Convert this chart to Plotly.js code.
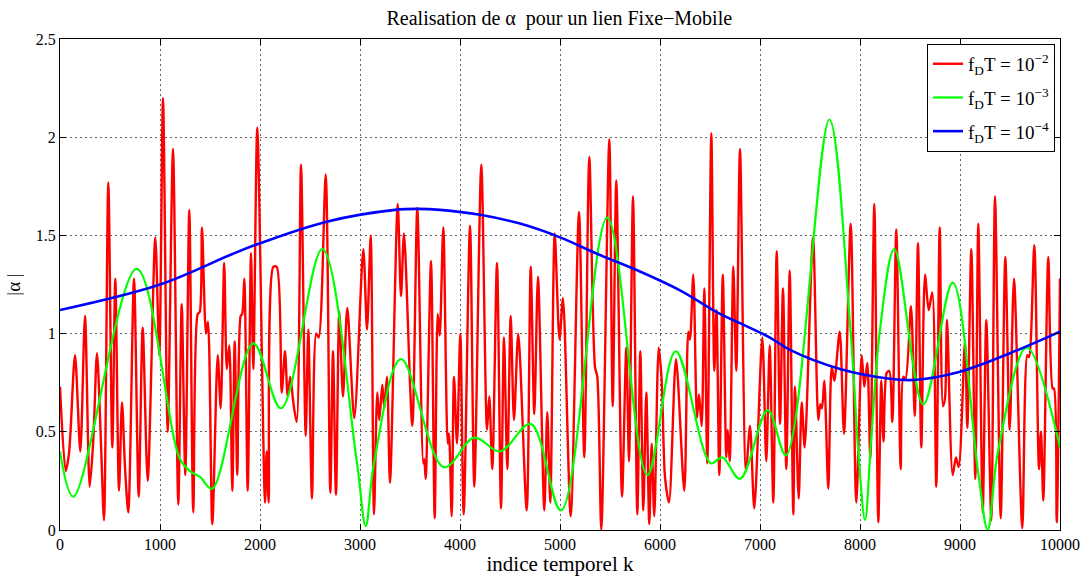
<!DOCTYPE html>
<html>
<head>
<meta charset="utf-8">
<script src="https://cdn.plot.ly/plotly-3.0.1.min.js"></script>
<style>html,body{margin:0;padding:0;background:#fff;}#chart{width:1086px;height:576px;}</style>
</head>
<body>
<div id="chart"></div>
<script>
// fD T = 1e-2 (red)
const redK = [0,57,90,150,203,250,297,333,370,410,440,483,523,553,590,620,650,683,740,787,827,877,953,993,1030,1077,1130,1183,1217,1253,1293,1333,1377,1397,1420,1460,1480,1523,1577,1607,1642,1668,1693,1723,1747,1773,1807,1822,1843,1877,1910,1933,1973,2050,2067,2087,2133,2167,2217,2250,2277,2303,2333,2367,2410,2457,2483,2520,2563,2587,2657,2703,2730,2760,2793,2830,2873,2943,3033,3070,3107,3140,3173,3193,3223,3243,3270,3300,3377,3410,3440,3523,3573,3633,3643,3657,3710,3747,3777,3797,3833,3877,3890,3917,3940,3970,4003,4037,4100,4143,4213,4270,4293,4323,4370,4410,4440,4473,4507,4540,4583,4667,4707,4743,4780,4843,4873,4903,4947,4995,5030,5107,5190,5243,5293,5350,5373,5413,5493,5527,5563,5620,5663,5690,5730,5773,5803,5833,5863,5893,5917,5943,5987,6017,6050,6090,6160,6243,6283,6300,6333,6370,6390,6417,6443,6473,6513,6543,6565,6593,6628,6663,6677,6697,6733,6763,6800,6860,6900,6943,7023,7063,7097,7133,7167,7200,7230,7263,7297,7333,7350,7387,7417,7447,7530,7583,7603,7620,7643,7683,7717,7743,7797,7840,7907,7963,8017,8043,8073,8103,8143,8183,8213,8235,8267,8293,8323,8363,8407,8433,8455,8510,8547,8580,8613,8650,8687,8723,8763,8797,8830,8850,8870,8927,8960,8987,9050,9073,9113,9153,9183,9227,9263,9313,9350,9407,9453,9497,9540,9623,9673,9690,9743,9790,9810,9833,9883,9927,9940,9967,10000];
const redV = [0.73,0.30,0.39,0.89,0.40,1.09,0.22,0.46,0.90,0.44,0.05,1.77,0.42,1.28,0.20,0.65,0.32,0.09,1.28,0.17,1.03,0.25,1.49,0.89,2.20,0.50,1.94,0.13,1.15,0.28,1.63,0.09,1.10,1.11,1.54,1.00,1.06,0.03,0.89,0.62,1.36,0.82,0.94,0.20,0.96,0.28,1.09,1.10,1.28,0.20,1.41,0.82,2.05,0.14,0.40,0.14,1.34,1.34,0.70,0.91,0.68,0.78,0.65,0.55,1.86,0.48,1.02,0.16,1.00,0.98,1.81,0.19,0.91,0.18,1.11,0.68,1.13,0.57,1.43,1.02,1.50,0.08,0.70,0.56,0.74,0.62,0.78,0.24,1.66,1.19,1.51,0.53,1.64,0.34,0.36,0.26,1.37,0.06,1.10,0.99,1.54,0.44,0.49,0.07,0.78,0.44,1.00,0.08,1.55,0.22,1.86,0.51,0.68,0.31,1.36,0.11,0.98,0.31,1.09,0.56,1.00,0.10,1.34,0.59,1.29,0.10,0.60,0.14,1.51,0.97,1.18,0.07,1.62,0.37,1.90,0.83,0.78,0.00,1.99,0.63,1.78,0.17,0.93,0.35,1.70,0.08,0.91,0.10,0.70,0.03,0.44,0.07,0.93,0.76,0.27,0.14,0.87,0.20,1.01,0.97,1.30,0.57,0.69,0.53,1.23,0.34,2.02,0.81,1.12,0.28,1.30,0.37,0.51,0.35,1.34,0.81,1.94,0.30,0.53,0.11,0.98,0.35,0.94,0.14,1.42,0.54,1.23,0.31,1.32,0.08,0.73,0.16,0.65,0.42,1.49,0.56,0.64,0.62,0.76,0.21,0.83,0.76,1.01,0.49,1.56,0.14,0.89,0.73,0.85,0.36,1.66,0.04,0.76,0.45,0.80,0.81,0.55,1.53,0.31,0.78,0.77,1.14,0.58,1.46,0.42,1.30,1.12,1.21,0.22,1.54,0.63,0.67,1.07,0.28,0.37,0.32,0.96,0.52,1.43,0.26,1.56,0.09,1.07,0.05,1.70,0.06,1.39,0.51,1.28,0.01,0.89,0.88,1.45,0.31,0.50,0.15,1.39,0.72,0.72,0.04,1.28];

// fD T = 1e-3 (green)
const greenK = [0,133,767,1200,1300,1400,1520,1933,2210,2623,2970,3057,3140,3410,3840,4143,4400,4707,5010,5473,5873,6157,6507,6623,6800,7077,7260,7693,7900,7990,8050,8110,8200,8343,8633,8927,9180,9277,9380,9667,10000];
const greenV = [0.40,0.17,1.33,0.36,0.30,0.27,0.21,0.95,0.62,1.43,0.34,0.02,0.34,0.87,0.32,0.47,0.40,0.54,0.10,1.59,0.28,0.91,0.34,0.37,0.26,0.61,0.38,2.09,1.05,0.35,0.05,0.45,1.02,1.43,0.64,1.26,0.30,0.00,0.40,0.93,0.42];

// fD T = 1e-4 (blue)
const blueK = [0,1000,1700,2000,2667,3350,3583,3800,4200,4600,5000,5400,5800,6200,6600,6800,7100,7300,7800,8300,8533,9000,9500,10000];
const blueV = [1.12,1.25,1.40,1.46,1.57,1.63,1.635,1.63,1.605,1.56,1.49,1.40,1.316,1.22,1.10,1.053,0.98,0.917,0.82,0.77,0.764,0.806,0.90,1.01];

const seriesNames = ["f<sub>D</sub>T = 10<sup>\u22122</sup>", "f<sub>D</sub>T = 10<sup>\u22123</sup>", "f<sub>D</sub>T = 10<sup>\u22124</sup>"];
const xTicks = [0,1000,2000,3000,4000,5000,6000,7000,8000,9000,10000];
const yTicks = [0,0.5,1,1.5,2,2.5];
const yTickText = ["0","0.5","1","1.5","2","2.5"];

const serif = "Liberation Serif, Times New Roman, serif";

const traces = [
  {x: redK, y: redV, name: seriesNames[0], legendgroup: "a", mode: "lines", line: {color: "#ff0000", width: 2.4, shape: "spline", smoothing: 0.8}},
  {x: greenK, y: greenV, name: seriesNames[1], legendgroup: "b", mode: "lines", line: {color: "#00ff00", width: 2.2, shape: "spline", smoothing: 1}},
  {x: blueK, y: blueV, name: seriesNames[2], legendgroup: "c", mode: "lines", line: {color: "#0000ff", width: 2.6, shape: "spline", smoothing: 1}}
];

const axisCommon = {
  showline: true, linecolor: "#000", linewidth: 1, mirror: "ticks",
  ticks: "inside", ticklen: 6, tickcolor: "#000",
  showgrid: true, gridcolor: "#666", griddash: "1.5px,3.5px", gridwidth: 1,
  zeroline: false, tickfont: {family: serif, size: 16, color: "#000"}
};

const layout = {
  width: 1086, height: 576,
  margin: {l: 60, r: 26, t: 39, b: 46, pad: 0},
  paper_bgcolor: "#fff", plot_bgcolor: "#fff",
  title: {text: "Realisation de \u03b1  pour un lien Fixe\u2212Mobile", font: {family: serif, size: 20, color: "#000"}, x: 0.515, xanchor: "center", y: 0.968, yanchor: "middle"},
  xaxis: Object.assign({}, axisCommon, {range: [0, 10000], tickvals: xTicks, ticktext: xTicks.map(String),
    title: {text: "indice temporel k", font: {family: serif, size: 21, color: "#000"}, standoff: 0}}),
  yaxis: Object.assign({}, axisCommon, {range: [0, 2.5], tickvals: yTicks, ticktext: yTickText,
    title: {text: "|\u03b1 |", font: {family: serif, size: 19, color: "#000"}, standoff: 10}}),
  showlegend: true,
  legend: {x: 0.995, y: 0.99, xanchor: "right", yanchor: "top", bgcolor: "#fff", bordercolor: "#000", borderwidth: 1,
    font: {family: serif, size: 19, color: "#000"}, traceorder: "grouped", tracegroupgap: 6, itemwidth: 30}
};

Plotly.newPlot("chart", traces, layout, {displayModeBar: false, staticPlot: true});
</script>
</body>
</html>
